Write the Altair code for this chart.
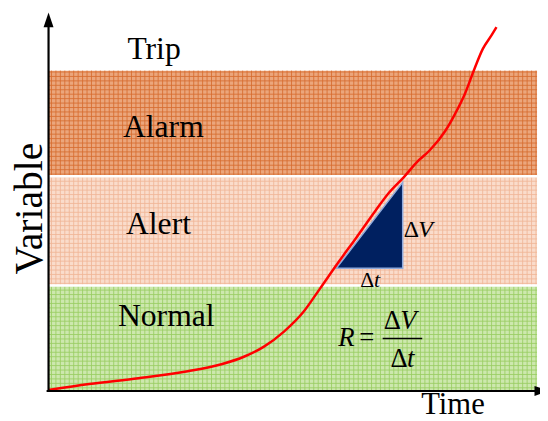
import altair as alt
import pandas as pd

# ---------------- data ----------------
band_names = ["Normal", "Alert", "Alarm"]
band_low = [0.0, 32.7, 66.9]
band_high = [32.7, 66.9, 100.0]
band_fill = ["#cde8ae", "#fadccb", "#eba67c"]
band_line = ["#98cd62", "#f0b596", "#d66d30"]

curve_t = [0.0, 8.3, 18.4, 28.5, 35.2, 40.1, 44.1, 48.2, 52.2, 55.5, 59.3, 63.0,
           67.0, 69.6, 72.7, 75.7, 78.0, 81.2, 83.2, 85.2, 87.2, 88.9, 90.7, 91.7]
curve_v = [0.0, 1.9, 3.7, 5.9, 8.0, 10.5, 13.6, 18.3, 24.5, 31.6, 39.9, 47.7,
           56.3, 61.6, 66.6, 71.8, 75.0, 81.1, 86.4, 92.6, 100.6, 106.8, 111.1, 113.6]

tri_t = [58.9, 72.5]
tri_v = [38.1, 65.0]
tri_base = [38.1, 38.1]

band_label_text = ["Trip", "Alarm", "Alert", "Normal"]
band_label_t = [21.6, 23.5, 22.5, 24.1]
band_label_v = [103.7, 79.3, 48.9, 20.1]

math_up_text = ["Δ", "Δ", "=", "Δ", "Δ"]
math_up_t = [72.7, 63.8, 63.6, 68.6, 70.0]
math_up_v = [48.0, 32.2, 13.9, 19.2, 7.1]
math_up_fs = [24, 22, 27, 27, 27]

math_it_text = ["V", "t", "R", "V", "t"]
math_it_t = [75.7, 66.6, 59.3, 72.0, 73.4]
math_it_v = [48.0, 32.2, 13.9, 19.2, 7.1]
math_it_fs = [24, 22, 27, 27, 27]

FONT = "Liberation Serif"

xs = alt.Scale(domain=[0, 100], nice=False, zero=False)
ys = alt.Scale(domain=[0, 100], nice=False, zero=False)


def X(f):
    return alt.X(f, type="quantitative", scale=xs, axis=None)


def Y(f):
    return alt.Y(f, type="quantitative", scale=ys, axis=None)


layers = []

# bands
bands = pd.DataFrame({"name": band_names, "lo": band_low, "hi": band_high,
                      "fill": band_fill})
layers.append(
    alt.Chart(bands).mark_rect(clip=False).transform_calculate(x0="0", x1="100").encode(
        x=X("x0"), x2="x1:Q", y=Y("lo"), y2="hi:Q",
        color=alt.Color("fill:N", scale=None))
)

# mesh texture inside each band
for lo, hi, col in zip(band_low, band_high, band_line):
    layers.append(
        alt.Chart(alt.sequence(0.6, 100, 0.91, as_="g"))
        .mark_rule(color=col, strokeWidth=1, opacity=0.85)
        .transform_calculate(lo=str(lo), hi=str(hi))
        .encode(x=X("g"), y=Y("lo"), y2="hi:Q")
    )
    layers.append(
        alt.Chart(alt.sequence(lo + 0.7, hi, 1.39, as_="g"))
        .mark_rule(color=col, strokeWidth=1, opacity=0.85)
        .transform_calculate(a="0", b="100")
        .encode(y=Y("g"), x=X("a"), x2="b:Q")
    )

# white separators between bands
seps = pd.DataFrame({"v": band_low[1:]})
layers.append(
    alt.Chart(seps).mark_rule(color="white", strokeWidth=2.5)
    .transform_calculate(a="0", b="100")
    .encode(y=Y("v"), x=X("a"), x2="b:Q")
)

# triangle
tri = pd.DataFrame({"t": tri_t, "v": tri_v, "b": tri_base})
layers.append(
    alt.Chart(tri).mark_area(color="#002060", stroke="#8faadc", strokeWidth=1.5,
                             opacity=1, line=False)
    .encode(x=X("t"), y=Y("v"), y2="b:Q")
)

# curve
curve = pd.DataFrame({"t": curve_t, "v": curve_v})
layers.append(
    alt.Chart(curve).mark_line(color="#ff0000", strokeWidth=2.5,
                               interpolate="monotone", clip=False)
    .encode(x=X("t"), y=Y("v"))
)

# axes lines
layers.append(
    alt.Chart(pd.DataFrame({"a": [0.0]})).mark_rule(color="black", strokeWidth=2.2, clip=False)
    .transform_calculate(lo="-0.6", hi="114")
    .encode(x=X("a"), y=Y("lo"), y2="hi:Q")
)
layers.append(
    alt.Chart(pd.DataFrame({"a": [-0.3]})).mark_rule(color="black", strokeWidth=2.2, clip=False)
    .transform_calculate(lo="-0.4", hi="100.5")
    .encode(y=Y("a"), x=X("lo"), x2="hi:Q")
)
layers.append(
    alt.Chart(pd.DataFrame({"t": [0.0], "v": [115.9]}))
    .mark_point(shape="M0,-1L0.67,1L-0.67,1Z", filled=True, color="black",
                size=225, opacity=1, strokeWidth=0, clip=False)
    .encode(x=X("t"), y=Y("v"))
)
layers.append(
    alt.Chart(pd.DataFrame({"t": [101.0], "v": [-0.3]}))
    .mark_point(shape="M1,0L-1,-0.67L-1,0.67Z", filled=True, color="black",
                size=225, opacity=1, strokeWidth=0, clip=False)
    .encode(x=X("t"), y=Y("v"))
)

# fraction bar
layers.append(
    alt.Chart(pd.DataFrame({"v": [16.1]})).mark_rule(color="black", strokeWidth=1.5)
    .transform_calculate(a="68.4", b="76.5")
    .encode(y=Y("v"), x=X("a"), x2="b:Q")
)

# band labels
bl = pd.DataFrame({"text": band_label_text, "t": band_label_t, "v": band_label_v})
layers.append(
    alt.Chart(bl).mark_text(font=FONT, fontSize=32, align="center",
                            baseline="alphabetic", color="black")
    .encode(x=X("t"), y=Y("v"), text="text:N")
)

# axis titles
layers.append(
    alt.Chart(pd.DataFrame({"text": ["Time"], "t": [82.8], "v": [-7.4]}))
    .mark_text(font=FONT, fontSize=31, align="center", baseline="alphabetic", color="black")
    .encode(x=X("t"), y=Y("v"), text="text:N")
)
layers.append(
    alt.Chart(pd.DataFrame({"text": ["Variable"], "t": [-1.42], "v": [56.8]}))
    .mark_text(font=FONT, fontSize=40, align="center", baseline="alphabetic",
               angle=270, color="black")
    .encode(x=X("t"), y=Y("v"), text="text:N")
)

# math pieces
mu = pd.DataFrame({"text": math_up_text, "t": math_up_t, "v": math_up_v, "fs": math_up_fs})
layers.append(
    alt.Chart(mu).mark_text(font=FONT, align="left", baseline="alphabetic", color="black")
    .encode(x=X("t"), y=Y("v"), text="text:N", size=alt.Size("fs:Q", scale=None))
)
mi = pd.DataFrame({"text": math_it_text, "t": math_it_t, "v": math_it_v, "fs": math_it_fs})
layers.append(
    alt.Chart(mi).mark_text(font=FONT, fontStyle="italic", align="left",
                            baseline="alphabetic", color="black")
    .encode(x=X("t"), y=Y("v"), text="text:N", size=alt.Size("fs:Q", scale=None))
)

chart = alt.layer(*layers).properties(
    width=494, height=323,
    autosize=alt.AutoSizeParams(type="none"),
    padding={"left": 41, "top": 61, "right": 3, "bottom": 30},
    background="white",
).configure_view(stroke=None)

chart.save("out.html", embed_options={"renderer": "svg", "actions": False})
